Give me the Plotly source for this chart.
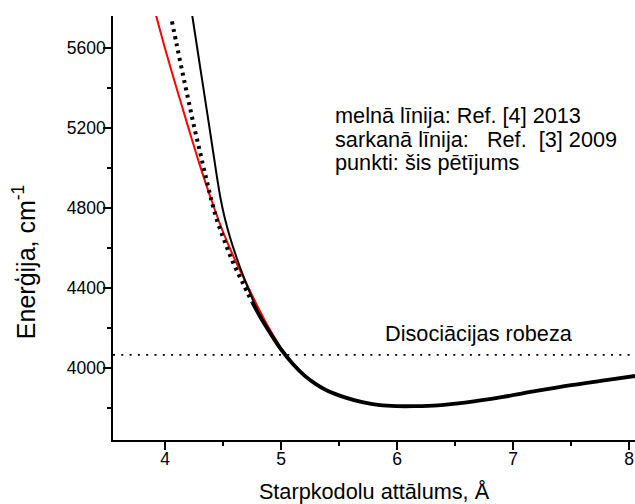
import plotly.graph_objects as go

# Internuclear distance (Å) and energy (cm^-1) along each potential curve

# Ref. [4] 2013 (black line)
ref4_r = [4.22, 4.278, 4.331, 4.384, 4.448, 4.478, 4.515, 4.562, 4.618, 4.681,
          4.750, 4.826, 4.90, 5.00, 5.10, 5.20, 5.30, 5.40, 5.55, 5.70, 5.85,
          6.00, 6.15, 6.35, 6.60, 6.90, 7.20, 7.50, 7.80, 8.10]
ref4_e = [5820, 5600, 5400, 5200, 4955, 4850, 4750, 4650, 4550, 4450,
          4350, 4250, 4180, 4092, 4020, 3962, 3918, 3885, 3852, 3828, 3813,
          3808, 3808, 3812, 3827, 3853, 3884, 3913, 3938, 3963]

# Ref. [3] 2009 (red line)
ref3_r = [3.90, 4.00, 4.10, 4.20, 4.30, 4.40, 4.50, 4.60, 4.70, 4.80, 4.90, 5.00,
          5.10, 5.20, 5.30, 5.40, 5.55, 5.70, 5.85, 6.00, 6.15, 6.35, 6.60, 6.90,
          7.20, 7.50, 7.80, 8.10]
ref3_e = [5815, 5600, 5400, 5205, 5015, 4840, 4680, 4545, 4425, 4305, 4195, 4100,
          4025, 3965, 3918, 3885, 3852, 3828, 3813, 3808, 3808, 3812, 3827, 3853,
          3884, 3913, 3938, 3963]

# This study (points)
pts_r = [4.06, 4.10, 4.15, 4.20, 4.25, 4.30, 4.35, 4.40, 4.45, 4.50, 4.55, 4.60,
         4.67, 4.75, 4.83, 4.90, 5.00, 5.10, 5.20, 5.30, 5.40, 5.55, 5.70, 5.85,
         6.00, 6.15, 6.35, 6.60, 6.90, 7.20, 7.50, 7.80, 8.10]
pts_e = [5735, 5620, 5480, 5345, 5210, 5085, 4960, 4840, 4735, 4655, 4578, 4510,
         4425, 4330, 4245, 4180, 4092, 4020, 3962, 3918, 3885, 3852, 3828, 3813,
         3808, 3808, 3812, 3827, 3853, 3884, 3913, 3938, 3963]

# Dissociation limit, cm^-1
dissoc_e = 4065

legend_lines = [
    "melnā līnija: Ref. [4] 2013",
    "sarkanā līnija:\u00a0\u00a0\u00a0Ref.\u00a0\u00a0[3] 2009",
    "punkti: šis pētījums",
]

FONT = "Liberation Sans, Arial, sans-serif"

# Points on the steep wall are resolved as separate dots; further out
# they sit so close together that they merge into a thick line.
split_r = 4.75
i_split = pts_r.index(split_r)

fig = go.Figure()
fig.add_trace(go.Scatter(x=ref3_r, y=ref3_e, mode="lines",
                         line=dict(color="#ff0000", width=2, shape="spline"),
                         hoverinfo="skip"))
fig.add_trace(go.Scatter(x=ref4_r, y=ref4_e, mode="lines",
                         line=dict(color="black", width=2, shape="spline"),
                         hoverinfo="skip"))
fig.add_trace(go.Scatter(x=pts_r[:i_split + 1], y=pts_e[:i_split + 1], mode="lines",
                         line=dict(color="black", width=4, shape="spline",
                                   dash="3px,4.5px"),
                         hoverinfo="skip"))
fig.add_trace(go.Scatter(x=pts_r[i_split:], y=pts_e[i_split:], mode="lines",
                         line=dict(color="black", width=3.8, shape="spline"),
                         hoverinfo="skip"))

fig.add_shape(type="line", xref="paper", yref="y", x0=0, x1=1,
              y0=dissoc_e, y1=dissoc_e,
              line=dict(color="black", width=1.7, dash="2px,6.3px"))

fig.add_annotation(text="Disociācijas robeza", xref="paper", yref="y",
                   x=0.517, y=dissoc_e + 105, xanchor="left", yanchor="middle",
                   showarrow=False, font=dict(family=FONT, size=21.7, color="black"))

for k, line in enumerate(legend_lines):
    fig.add_annotation(text=line, xref="paper", yref="y",
                       x=0.422, y=5262 - k * 118, xanchor="left", yanchor="middle",
                       showarrow=False, font=dict(family=FONT, size=21.7, color="black"))

# y-axis title placed as a rotated annotation beside the axis
fig.add_annotation(text="Enerģija, cm<sup>-1</sup>", xref="paper", yref="paper",
                   x=-0.17, y=0.42, xanchor="center", yanchor="middle",
                   textangle=-90, showarrow=False,
                   font=dict(family=FONT, size=25, color="black"))

axis_common = dict(showline=True, linecolor="black", linewidth=1.5, mirror=False,
                   ticks="outside", ticklen=8, tickwidth=1.5, tickcolor="black",
                   showgrid=False, zeroline=False, ticklabelstandoff=-6,
                   automargin=False,
                   tickfont=dict(family=FONT, size=17.5, color="black"))

fig.update_xaxes(range=[3.552, 8.05], dtick=1, tick0=4,
                 minor=dict(dtick=0.5, ticklen=4, tickwidth=1.5, tickcolor="black",
                            ticks="outside"),
                 title=dict(text="Starpkodolu attālums, Å", standoff=23,
                            font=dict(family=FONT, size=21.7, color="black")),
                 **axis_common)
fig.update_yaxes(range=[3638.5, 5761.5], dtick=400, tick0=4000,
                 minor=dict(dtick=200, ticklen=4, tickwidth=1.5, tickcolor="black",
                            ticks="outside"),
                 **axis_common)

fig.update_layout(width=635, height=504, showlegend=False,
                  margin=dict(l=113, r=0, t=16, b=64),
                  plot_bgcolor="white", paper_bgcolor="white",
                  font=dict(family=FONT, color="black"))

fig.write_html("out.html", config={"displayModeBar": False})
